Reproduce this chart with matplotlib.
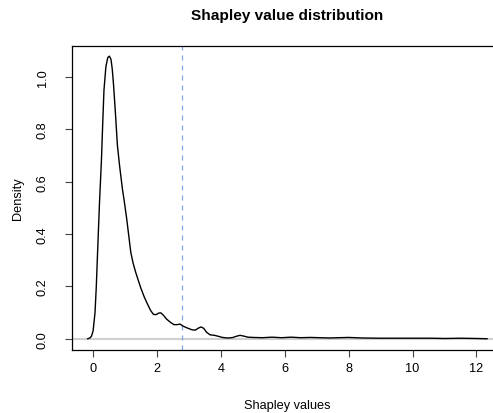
import matplotlib
matplotlib.use("Agg")
import matplotlib.pyplot as plt

# density curve (x = Shapley value, y = density)
shap_x = [-0.17, -0.10, -0.05, 0.00, 0.06, 0.10, 0.14, 0.20, 0.26, 0.30, 0.34, 0.40,
          0.46, 0.51, 0.56, 0.60, 0.64, 0.70, 0.76, 0.83, 0.92, 0.97, 1.05, 1.13,
          1.18, 1.25, 1.33, 1.41, 1.49, 1.60, 1.70, 1.80, 1.89, 1.97, 2.05, 2.12,
          2.20, 2.30, 2.43, 2.53, 2.63, 2.72, 2.82, 2.95, 3.10, 3.20, 3.30, 3.38,
          3.46, 3.55, 3.66, 3.80, 3.90, 4.05, 4.20, 4.35, 4.50, 4.60, 4.72, 4.85,
          5.00, 5.30, 5.60, 5.90, 6.20, 6.50, 6.80, 7.10, 7.40, 7.70, 8.00, 8.40,
          9.00, 9.60, 10.00, 10.60, 11.00, 11.50, 12.00, 12.33]
density = [0.000, 0.003, 0.010, 0.030, 0.100, 0.200, 0.330, 0.520, 0.680, 0.820, 0.950, 1.040,
           1.075, 1.080, 1.068, 1.030, 0.970, 0.860, 0.740, 0.660, 0.570, 0.530, 0.460, 0.380,
           0.330, 0.290, 0.255, 0.225, 0.195, 0.160, 0.133, 0.108, 0.093, 0.092, 0.098, 0.099,
           0.090, 0.075, 0.062, 0.054, 0.054, 0.056, 0.048, 0.041, 0.034, 0.033, 0.041, 0.045,
           0.040, 0.025, 0.015, 0.013, 0.010, 0.005, 0.003, 0.004, 0.010, 0.013, 0.010, 0.006,
           0.005, 0.004, 0.006, 0.004, 0.006, 0.004, 0.005, 0.004, 0.003, 0.004, 0.005, 0.003,
           0.002, 0.002, 0.002, 0.002, 0.001, 0.002, 0.001, 0.000]
cutoff = 2.79
x_ticks = [0, 2, 4, 6, 8, 10, 12]
y_ticks = [0.0, 0.2, 0.4, 0.6, 0.8, 1.0]

W, H = 493, 414
plt.rcParams["font.family"] = ["Liberation Sans", "DejaVu Sans"]

fig = plt.figure(figsize=(W / 100, H / 100), dpi=100)
# plot region runs past the right edge, as in the (cropped) reference
left, right, top, bottom = 71.7, 503.0, 46.7, 351.0
ax = fig.add_axes([left / W, 1 - bottom / H, (right - left) / W, (bottom - top) / H])

ax.axhline(0, color="#cfcfcf", lw=1.5, zorder=1)
ax.plot(shap_x, density, color="black", lw=1.0, zorder=3)
ax.axvline(cutoff, color="#7fa6ee", lw=0.9, dashes=(4, 4), zorder=2)

ax.set_xlim(-0.67, 12.83)
ax.set_ylim(-0.043, 1.12)
ax.set_xticks(x_ticks)
ax.set_xticklabels([str(t) for t in x_ticks])
ax.set_yticks(y_ticks)
ax.set_yticklabels([f"{t:.1f}" for t in y_ticks], rotation=90, va="center")
ax.tick_params(direction="out", length=5, width=0.8, labelsize=9.2, color="#444444")
ax.tick_params(axis="x", pad=3.5)
ax.tick_params(axis="y", pad=11.5)
for s in ax.spines.values():
    s.set_linewidth(0.9)

fig.text(287 / W, 1 - 16 / H, "Shapley value distribution", ha="center", va="center",
         fontsize=11.1, fontweight="bold")
fig.text(287 / W, 1 - 406 / H, "Shapley values", ha="center", va="center", fontsize=9.2)
fig.text(18 / W, 1 - 199 / H, "Density", ha="center", va="center", rotation=90, fontsize=9.2)

fig.savefig("out.png", dpi=100)
